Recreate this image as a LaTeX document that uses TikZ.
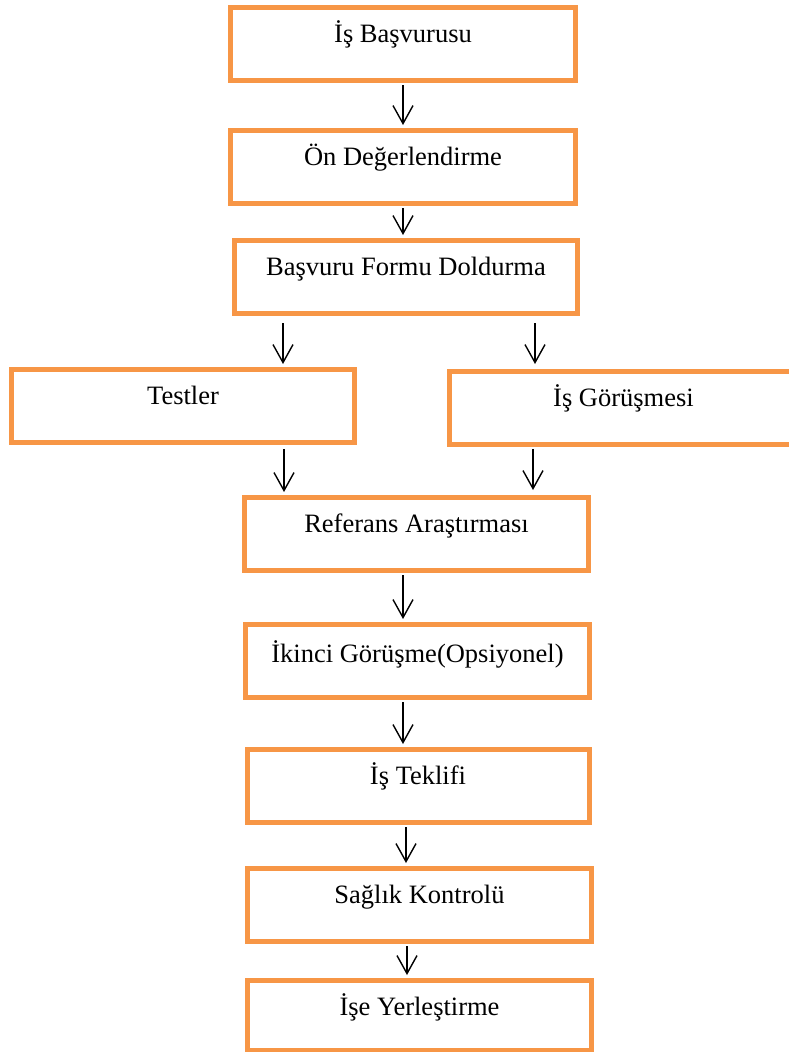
\documentclass[tikz,border=0pt]{standalone}
\usepackage{fontspec}
\setmainfont{Liberation Serif}
\usetikzlibrary{arrows.meta}
\definecolor{boxorange}{RGB}{247,150,70}
\begin{document}
\begin{tikzpicture}[x=1pt,y=-1pt,
  stepbox/.style={draw=boxorange, line width=5pt, inner sep=0pt, anchor=north,
    text height=35.5pt, text depth=37.5pt, font=\fontsize{26.5pt}{30pt}\selectfont},
  flow/.style={draw=black, line width=1.4pt,
    -{Straight Barb[length=18pt,width=20pt,line width=1.4pt]}}]
  \useasboundingbox (0,0) rectangle (788,1052);
  % process steps
  \node[stepbox, minimum width=345pt] (b1) at (403,4.5)   {İş Başvurusu};
  \node[stepbox, minimum width=345pt] (b2) at (403,127.5) {Ön Değerlendirme};
  \node[stepbox, minimum width=343pt] (b3) at (406,237.5) {Başvuru Formu Doldurma};
  \node[stepbox, minimum width=343pt] (b4) at (183,366.5) {Testler};
  \node[stepbox, minimum width=348pt] (b5) at (623.5,368.5) {İş Görüşmesi};
  \node[stepbox, minimum width=344pt] (b6) at (416.5,494.5) {Referans Araştırması};
  \node[stepbox, minimum width=344pt, text height=38pt, text depth=35pt] (b7) at (417.5,621.5) {İkinci Görüşme(Opsiyonel)};
  \node[stepbox, minimum width=342pt] (b8) at (418,746.5) {İş Teklifi};
  \node[stepbox, minimum width=344pt] (b9) at (419.5,865.5) {Sağlık Kontrolü};
  \node[stepbox, minimum width=344pt, text depth=35pt] (b10) at (419.5,977.5) {İşe Yerleştirme};
  % connectors
  \draw[flow, shorten <=2.5pt, shorten >=2.5pt] (403,0 |- b1.south) -- (403,0 |- b2.north);
  \draw[flow, shorten <=2.5pt, shorten >=2.5pt] (403,0 |- b2.south) -- (403,0 |- b3.north);
  \draw[flow, shorten <=7.5pt, shorten >=2.5pt] (283,0 |- b3.south) -- (283,0 |- b4.north);
  \draw[flow, shorten <=7.5pt, shorten >=4.5pt] (535,0 |- b3.south) -- (535,0 |- b5.north);
  \draw[flow, shorten <=4.5pt, shorten >=2.5pt] (284,0 |- b4.south) -- (284,0 |- b6.north);
  \draw[flow, shorten <=2.5pt, shorten >=4.5pt] (533,0 |- b5.south) -- (533,0 |- b6.north);
  \draw[flow, shorten <=2.5pt, shorten >=2.5pt] (403,0 |- b6.south) -- (403,0 |- b7.north);
  \draw[flow, shorten <=2.5pt, shorten >=2.5pt] (403,0 |- b7.south) -- (403,0 |- b8.north);
  \draw[flow, shorten <=2.5pt, shorten >=2.5pt] (406,0 |- b8.south) -- (406,0 |- b9.north);
  \draw[flow, shorten <=2.5pt, shorten >=2.5pt] (407,0 |- b9.south) -- (407,0 |- b10.north);
\end{tikzpicture}
\end{document}
